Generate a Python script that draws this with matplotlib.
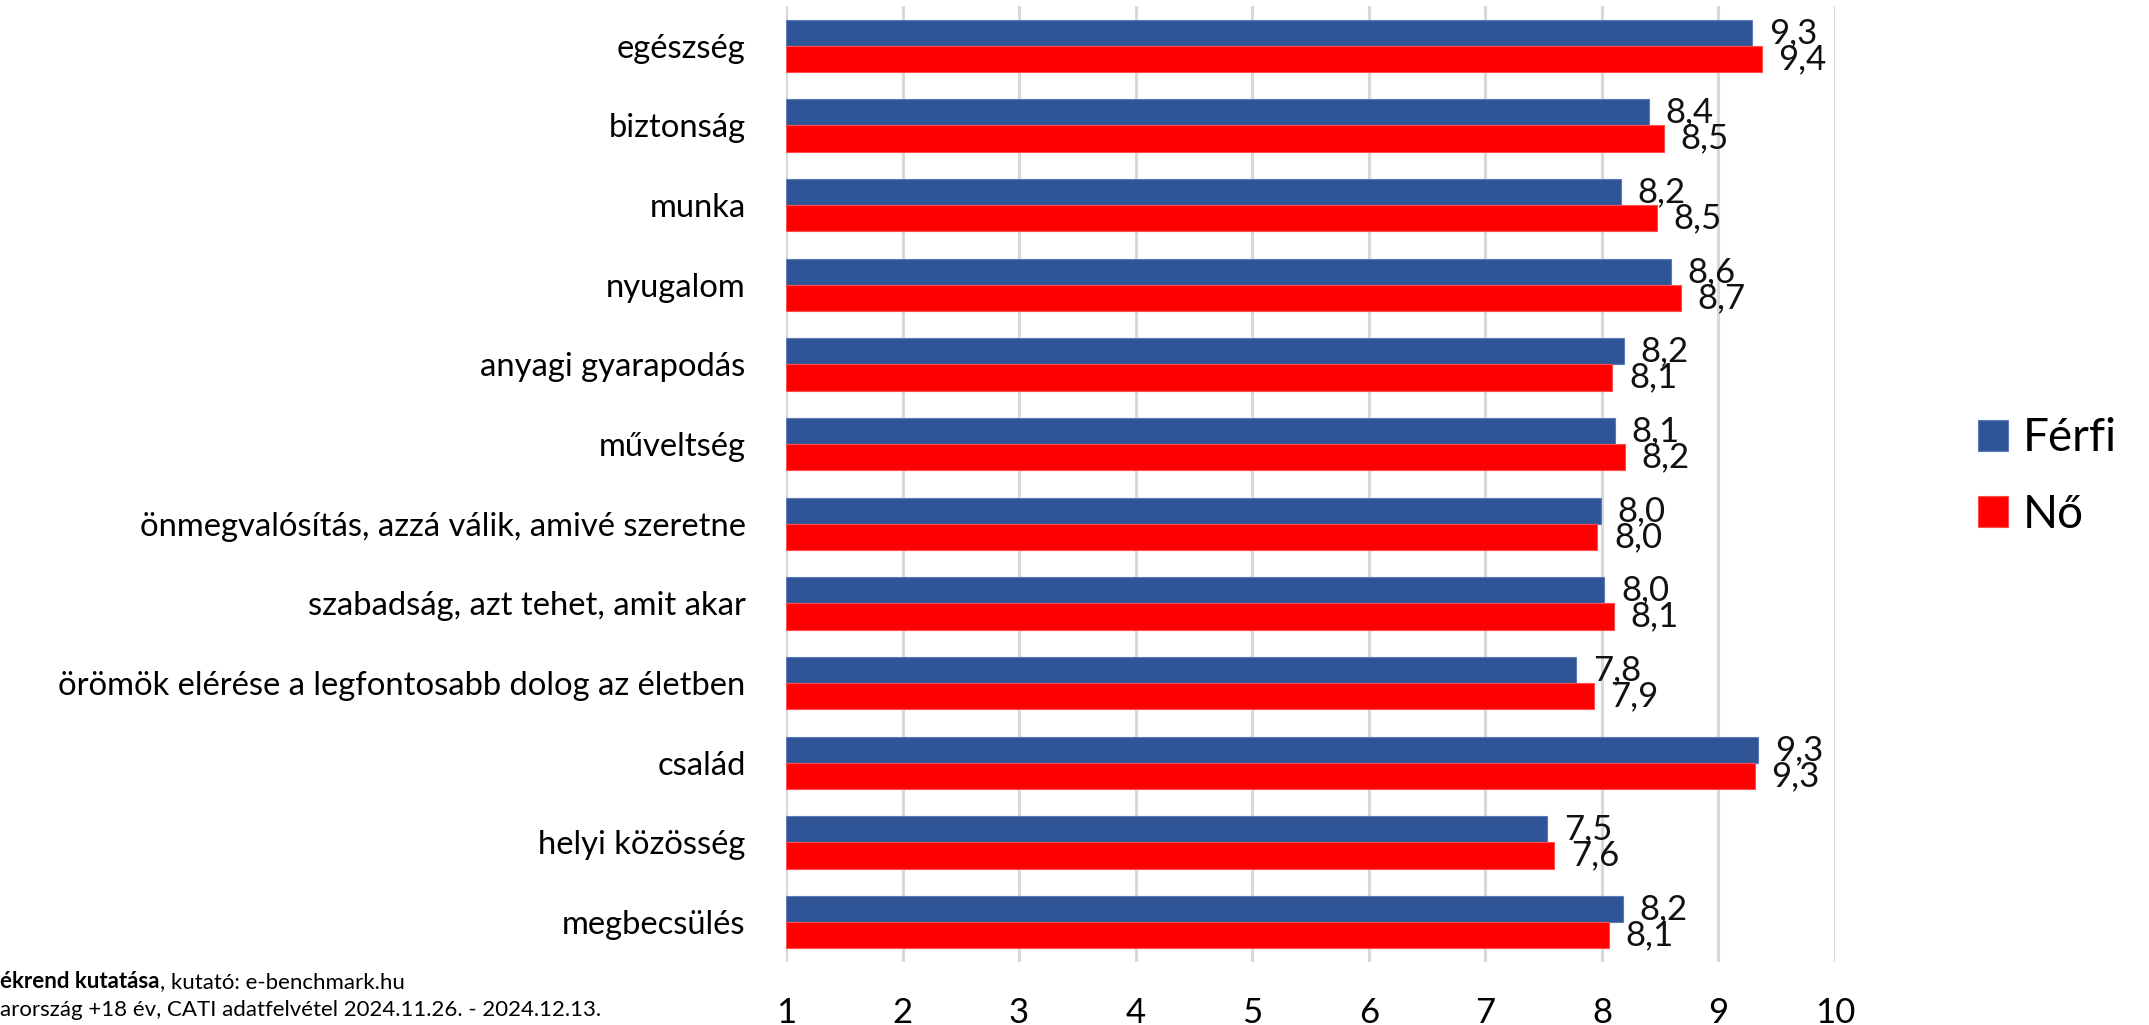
import matplotlib.pyplot as plt
import numpy as np

plt.rcParams['font.family'] = ['Lato', 'DejaVu Sans']

kategoriak = ['egészség', 'biztonság', 'munka', 'nyugalom', 'anyagi gyarapodás',
              'műveltség', 'önmegvalósítás, azzá válik, amivé szeretne',
              'szabadság, azt tehet, amit akar',
              'örömök elérése a legfontosabb dolog az életben',
              'család', 'helyi közösség', 'megbecsülés']
ferfi = [9.29, 8.40, 8.16, 8.59, 8.19, 8.11, 7.99, 8.02, 7.78, 9.34, 7.53, 8.18]
no = [9.37, 8.53, 8.47, 8.68, 8.09, 8.20, 7.96, 8.10, 7.93, 9.31, 7.59, 8.06]
xticks = [1, 2, 3, 4, 5, 6, 7, 8, 9, 10]

kek = '#2F5597'
piros = '#FF0000'

fig = plt.figure(figsize=(21.49, 10.25), dpi=100)
ax = fig.add_axes([786 / 2149, 1 - 962 / 1025, (1835 - 786) / 2149, (962 - 6) / 1025])

y = np.arange(len(kategoriak))
h = 0.327
b1 = ax.barh(y - h / 2, np.array(ferfi) - 1, left=1, height=h, color=kek, edgecolor='#5b7bb8', linewidth=0.8, label='Férfi', zorder=3)
b2 = ax.barh(y + h / 2, np.array(no) - 1, left=1, height=h, color=piros, edgecolor='#ff4d4d', linewidth=0.8, label='Nő', zorder=3)

def cimke(vals):
    return [f'{v:.1f}'.replace('.', ',') for v in vals]

ax.bar_label(b1, labels=cimke(ferfi), padding=12, fontsize=25, color='#111111')
ax.bar_label(b2, labels=cimke(no), padding=12, fontsize=25, color='#111111')

ax.set_xlim(1, 10)
ax.set_ylim(len(kategoriak) - 0.5, -0.5)
ax.set_xticks(xticks)
ax.set_xticklabels([str(t) for t in xticks], fontsize=25)
ax.set_yticks(y)
ax.set_yticklabels(kategoriak, fontsize=23.6)
ax.tick_params(axis='both', length=0)
ax.tick_params(axis='y', pad=29)
ax.tick_params(axis='x', pad=25)
ax.grid(axis='x', color='#d9d9d9', linewidth=2.2, zorder=0)
for s in ax.spines.values():
    s.set_visible(False)

leg = fig.legend(handles=[b1, b2], labels=['Férfi', 'Nő'], loc='center left',
                 bbox_to_anchor=(1978 / 2149, 1 - 476.5 / 1025), frameon=False,
                 fontsize=33, handlelength=0.65, handleheight=0.65,
                 handletextpad=0.33, labelspacing=0.75, borderpad=0, borderaxespad=0)

t1 = fig.text(0.0, 1 - 982 / 1025, 'ékrend kutatása', fontsize=16, fontweight='bold', va='center', ha='left')
fig.canvas.draw()
plt.annotate(', kutató: e-benchmark.hu', xy=(1, 0), xycoords=t1, va='bottom', ha='left', fontsize=16)
fig.text(0.0, 1 - 1010 / 1025, 'arország +18 év, CATI adatfelvétel 2024.11.26. - 2024.12.13.', fontsize=16, va='center', ha='left')

fig.savefig('out.png', dpi=100)
